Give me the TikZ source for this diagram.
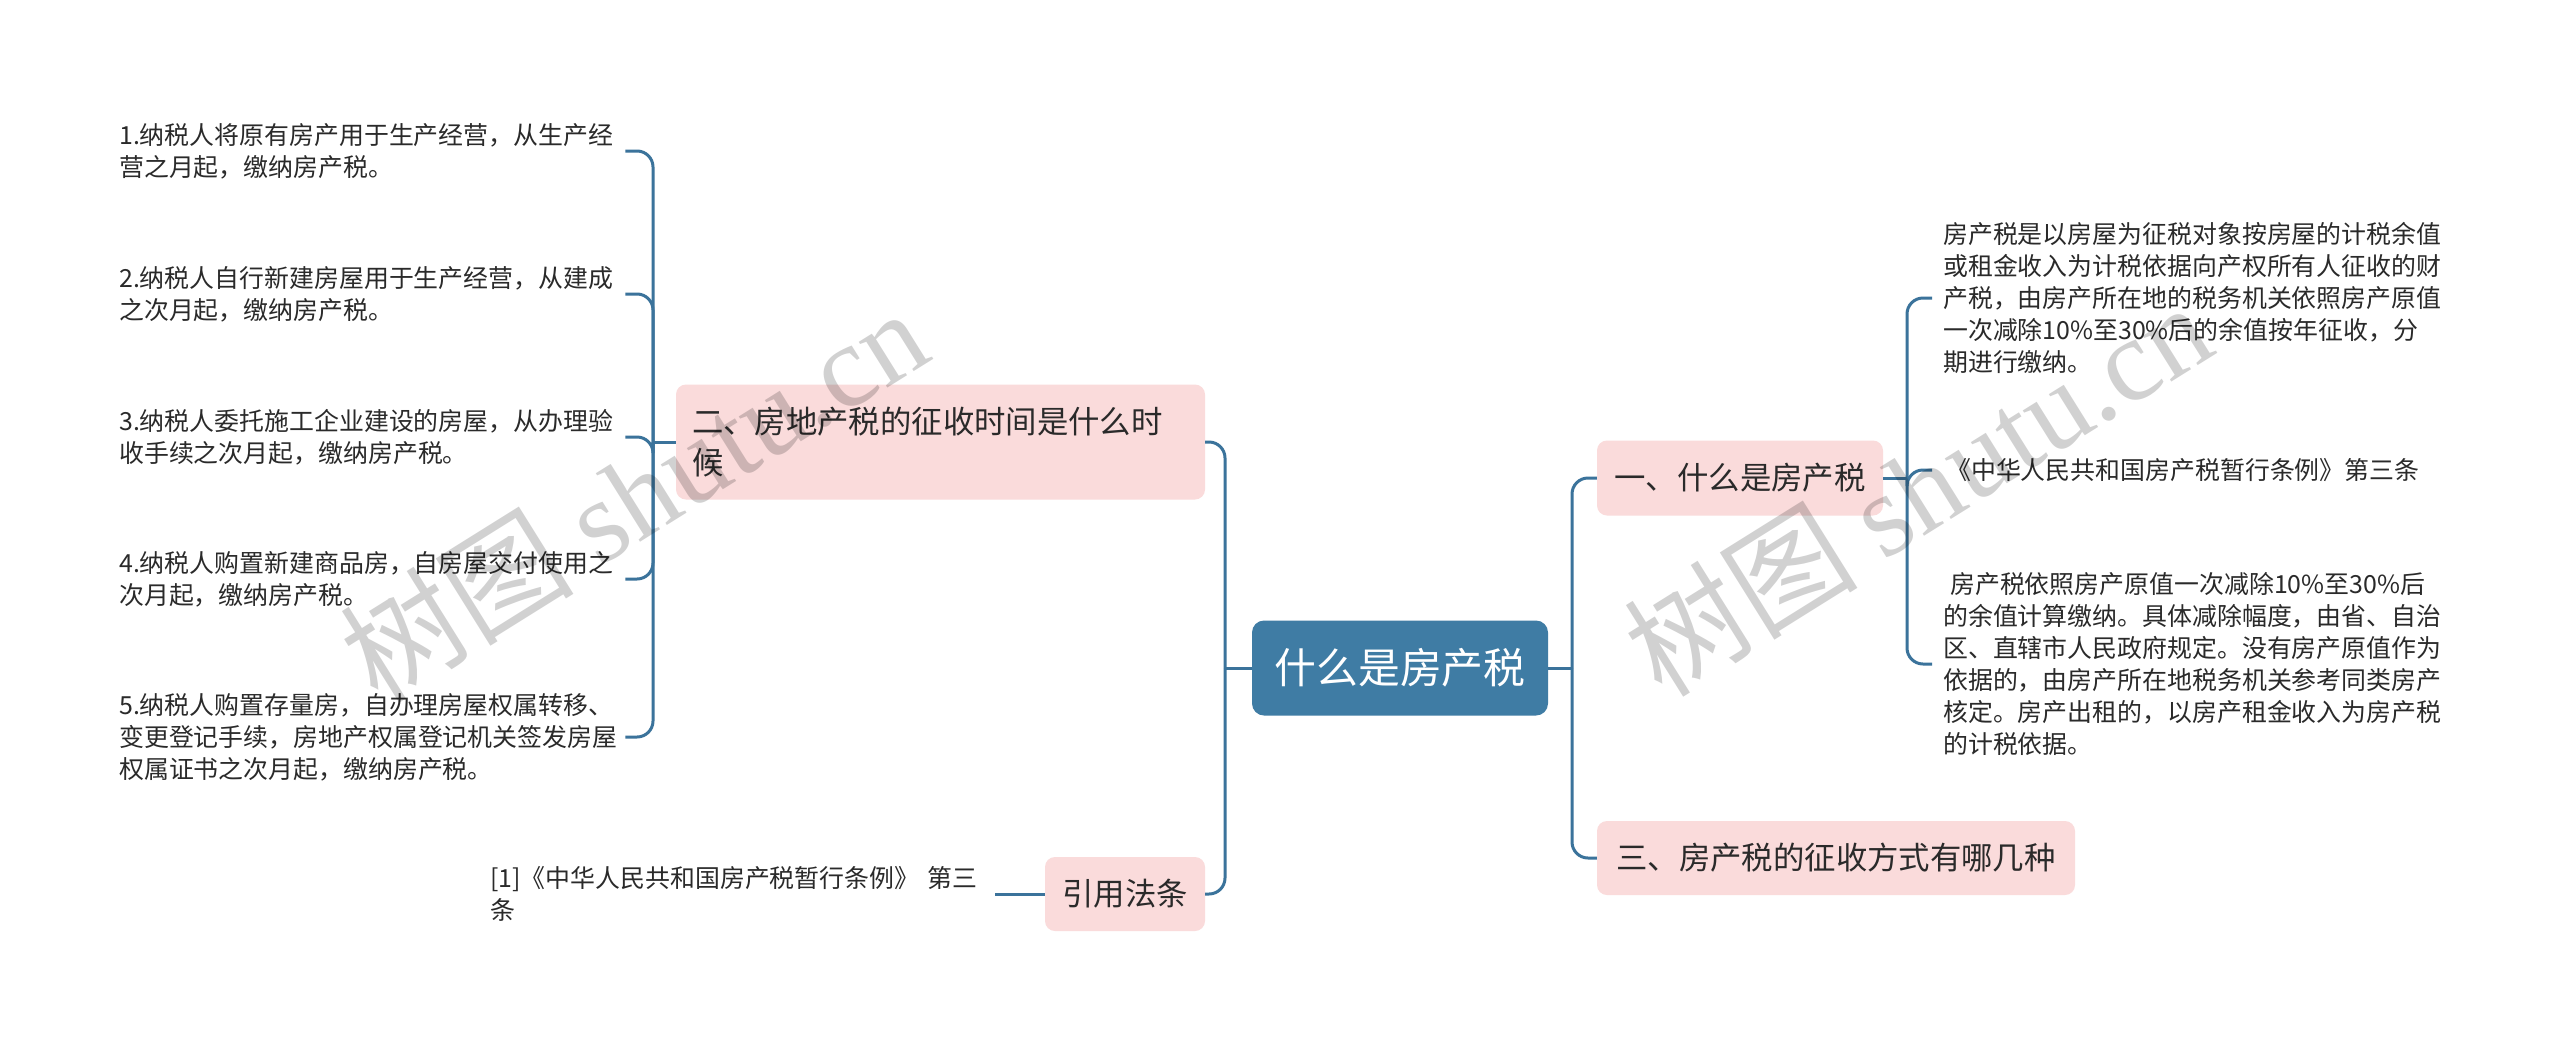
\documentclass[tikz,border=0pt]{standalone}
\usepackage{fontspec}
\setmainfont{Noto Sans CJK SC}
\newfontfamily\wmserif{Liberation Serif}
\definecolor{rootblue}{HTML}{3F7CA4}
\definecolor{linec}{HTML}{3B739B}
\definecolor{pinkf}{HTML}{FADBDB}
\definecolor{txt}{HTML}{2A2A2A}
\begin{document}
\begin{tikzpicture}[x=1bp,y=-1bp,
  conn/.style={draw=linec, line width=3bp, rounded corners=16bp},
  rootbox/.style={fill=rootblue, text=white, rounded corners=12bp, inner sep=0pt,
    font=\fontsize{42}{50}\selectfont},
  box/.style={fill=pinkf, text=txt, rounded corners=10bp, inner sep=0pt,
    font=\fontsize{31.5}{42}\selectfont},
  leaf/.style={text=txt, align=left, inner ysep=0pt, anchor=west,
    font=\fontsize{25}{32}\selectfont},
  wm/.style={text=black, text opacity=0.18, inner sep=0pt, anchor=base west, rotate=32,
    font=\fontsize{118}{118}\selectfont}]
\useasboundingbox (0,0) rectangle (2560,1045);
\fill[white] (0,0) rectangle (2560,1045);

% main nodes
\node[rootbox, minimum width=296bp, minimum height=95bp] (root) at (1400,668) {什么是房产税};
\node[box, minimum width=286bp, minimum height=75bp] (b1) at (1740,478) {一、什么是房产税};
\node[box, minimum width=478bp, minimum height=74bp] (b3) at (1836,858) {三、房产税的征收方式有哪几种};
\node[box, minimum width=529bp, minimum height=115bp, text width=497bp, align=left] (b2) at (940.5,442) {二、房地产税的征收时间是什么时\\候};
\node[box, minimum width=160bp, minimum height=74bp] (b4) at (1125,894) {引用法条};

% left leaves
\node[leaf, text width=501bp, inner xsep=5bp] (l1) at (114,151) {1.纳税人将原有房产用于生产经营，从生产经\\营之月起，缴纳房产税。};
\node[leaf, text width=501bp, inner xsep=5bp] (l2) at (114,294) {2.纳税人自行新建房屋用于生产经营，从建成\\之次月起，缴纳房产税。};
\node[leaf, text width=501bp, inner xsep=5bp] (l3) at (114,437) {3.纳税人委托施工企业建设的房屋，从办理验\\收手续之次月起，缴纳房产税。};
\node[leaf, text width=501bp, inner xsep=5bp] (l4) at (114,579) {4.纳税人购置新建商品房，自房屋交付使用之\\次月起，缴纳房产税。};
\node[leaf, text width=501bp, inner xsep=5bp] (l5) at (114,737) {5.纳税人购置存量房，自办理房屋权属转移、\\变更登记手续，房地产权属登记机关签发房屋\\权属证书之次月起，缴纳房产税。};
\node[leaf, text width=500bp, inner xsep=5bp] (c1) at (485,894) {[1]《中华人民共和国房产税暂行条例》 第三\\条};

% right leaves
\node[leaf, text width=500bp, inner xsep=11bp] (r1) at (1932,298) {房产税是以房屋为征税对象按房屋的计税余值\\或租金收入为计税依据向产权所有人征收的财\\产税，由房产所在地的税务机关依照房产原值\\一次减除10\%至30\%后的余值按年征收，分\\期进行缴纳。};
\node[leaf, text width=500bp, inner xsep=11bp] (r2) at (1932,470) {\hspace*{3bp}《中华人民共和国房产税暂行条例》第三条};
\node[leaf, text width=500bp, inner xsep=11bp] (r3) at (1932,664) {\hspace*{7bp}房产税依照房产原值一次减除10\%至30\%后\\的余值计算缴纳。具体减除幅度，由省、自治\\区、直辖市人民政府规定。没有房产原值作为\\依据的，由房产所在地税务机关参考同类房产\\核定。房产出租的，以房产租金收入为房产税\\的计税依据。};

% junction points
\coordinate (jl) at (1225,668);
\coordinate (jr) at (1572,668);
\coordinate (j2) at (653,442);
\coordinate (j1) at (1907,478);

% connectors
\draw[conn] (root.west) -- (jl);
\draw[conn] (jl) |- (b2.east);
\draw[conn] (jl) |- (b4.east);
\draw[conn] (root.east) -- (jr);
\draw[conn] (jr) |- (b1.west);
\draw[conn] (jr) |- (b3.west);
\draw[conn] (b2.west) -- (j2);
\draw[conn] (j2) |- (l1.east);
\draw[conn] (j2) |- (l2.east);
\draw[conn] (j2) |- (l3.east);
\draw[conn] (j2) |- (l4.east);
\draw[conn] (j2) |- (l5.east);
\draw[conn] (b4.west) -- (c1.east);
\draw[conn] (b1.east) -- (j1);
\draw[conn] (j1) |- (r1.west);
\draw[conn] (j1) |- (r2.west);
\draw[conn] (j1) |- (r3.west);

% watermarks
\node[wm] (wm1) at (378,706) {树图 {\wmserif shutu.cn}};
\node[wm] (wm2) at (1662,700) {树图 {\wmserif shutu.cn}};
\end{tikzpicture}
\end{document}
